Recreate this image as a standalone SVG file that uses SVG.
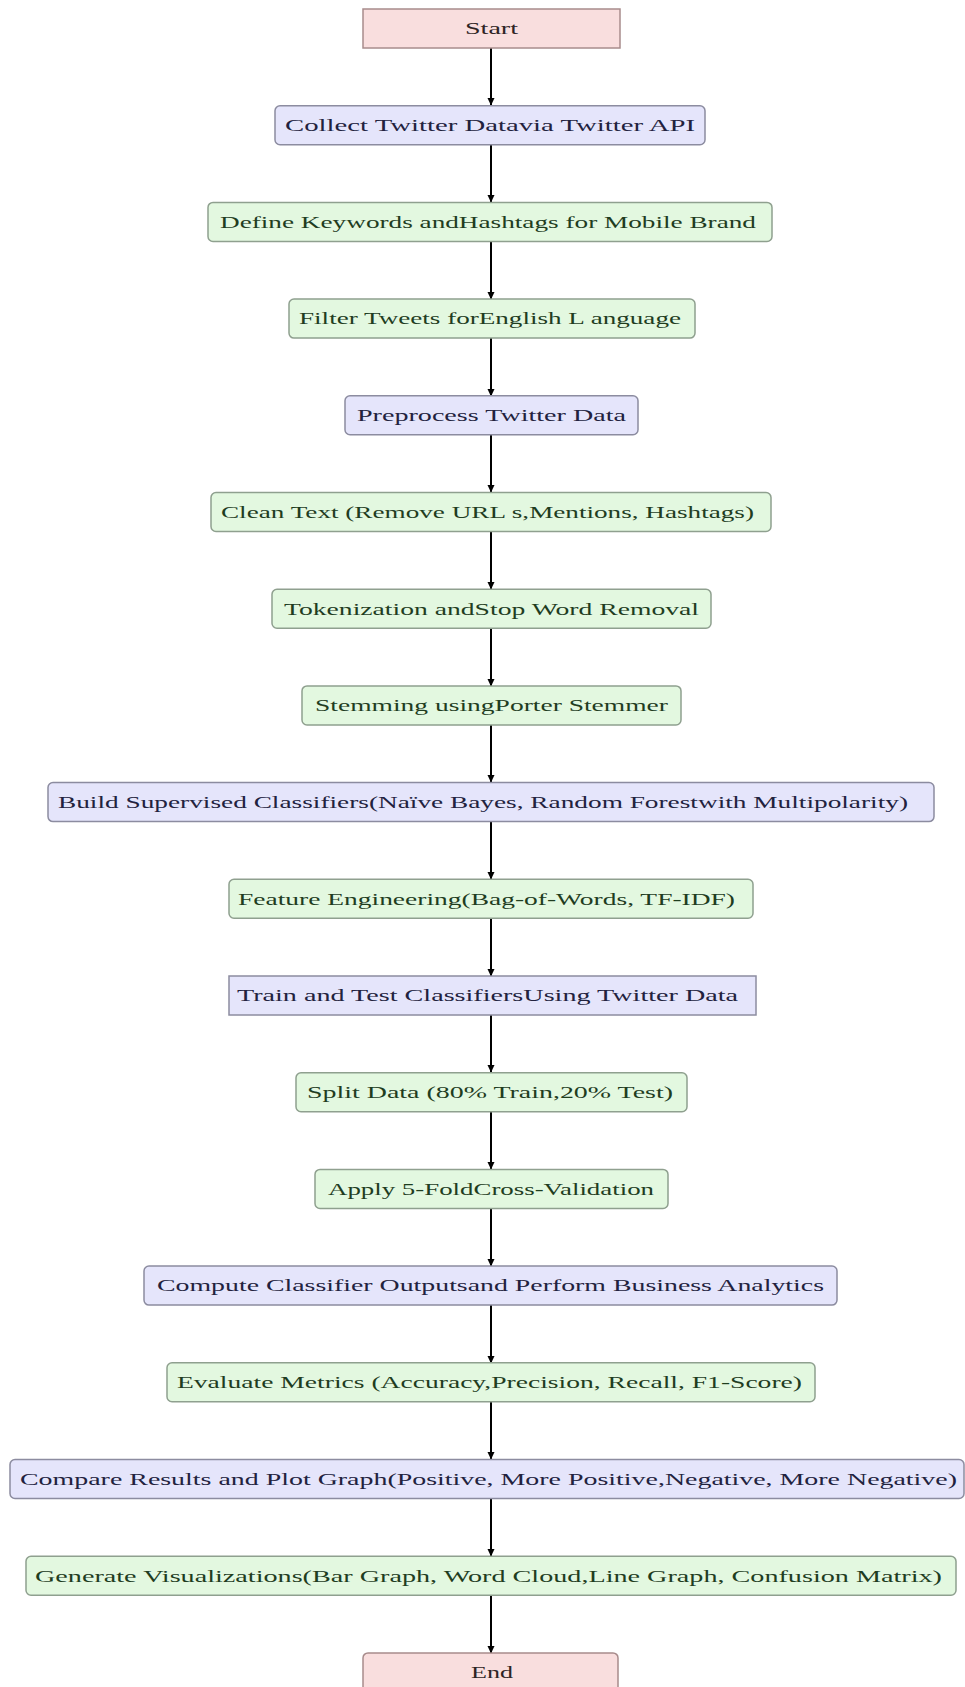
<svg xmlns="http://www.w3.org/2000/svg" width="965" height="1687" viewBox="0 0 965 1687">
<style>
.t{font-family:"Liberation Serif","Times New Roman",serif;font-size:17px;}
.pk rect{fill:#f9dede;stroke:#a88c8c;stroke-width:1.5;}
.pu rect{fill:#e5e5fb;stroke:#8c8ca0;stroke-width:1.5;}
.gr rect{fill:#e3f8e0;stroke:#8fa08f;stroke-width:1.5;}
.pk text{fill:#2e2424;}
.pu text{fill:#22223e;}
.gr text{fill:#1f3d1f;}
.c line{stroke:#000;stroke-width:2;marker-end:url(#ah);}
</style>
<defs>
<marker id="ah" markerWidth="8" markerHeight="8" refX="7" refY="4" orient="auto" markerUnits="userSpaceOnUse">
<path d="M0,0.5 L7.5,4 L0,7.5 z" fill="#000"/>
</marker>
</defs>
<rect width="965" height="1687" fill="#fff"/>
<g class="c">
<line x1="491" y1="48" x2="491" y2="105"/>
<line x1="491" y1="145" x2="491" y2="202"/>
<line x1="491" y1="241" x2="491" y2="299"/>
<line x1="491" y1="338" x2="491" y2="396"/>
<line x1="491" y1="435" x2="491" y2="492"/>
<line x1="491" y1="532" x2="491" y2="589"/>
<line x1="491" y1="628" x2="491" y2="686"/>
<line x1="491" y1="725" x2="491" y2="782"/>
<line x1="491" y1="822" x2="491" y2="879"/>
<line x1="491" y1="918" x2="491" y2="976"/>
<line x1="491" y1="1015" x2="491" y2="1072"/>
<line x1="491" y1="1112" x2="491" y2="1169"/>
<line x1="491" y1="1208" x2="491" y2="1266"/>
<line x1="491" y1="1305" x2="491" y2="1363"/>
<line x1="491" y1="1402" x2="491" y2="1459"/>
<line x1="491" y1="1498" x2="491" y2="1556"/>
<line x1="491" y1="1595" x2="491" y2="1653"/>
</g>
<g id="start" class="pk"><rect x="363" y="9" width="257" height="39"/><text class="t" x="465" y="34" textLength="53" lengthAdjust="spacingAndGlyphs">Start</text></g>
<g id="collect" class="pu"><rect x="275" y="105.7" width="430" height="39" rx="5"/><text class="t" x="285" y="131" textLength="410" lengthAdjust="spacingAndGlyphs">Collect Twitter Datavia Twitter API</text></g>
<g id="define" class="gr"><rect x="208" y="202.4" width="564" height="39" rx="5"/><text class="t" x="220" y="227.7" textLength="536" lengthAdjust="spacingAndGlyphs">Define Keywords andHashtags for Mobile Brand</text></g>
<g id="filter" class="gr"><rect x="289" y="299.1" width="406" height="39" rx="5"/><text class="t" x="299" y="324.4" textLength="382" lengthAdjust="spacingAndGlyphs">Filter Tweets forEnglish L anguage</text></g>
<g id="preprocess" class="pu"><rect x="345" y="395.8" width="293" height="39" rx="5"/><text class="t" x="357" y="421.1" textLength="269" lengthAdjust="spacingAndGlyphs">Preprocess Twitter Data</text></g>
<g id="clean" class="gr"><rect x="211" y="492.5" width="560" height="39" rx="5"/><text class="t" x="221" y="517.8" textLength="533" lengthAdjust="spacingAndGlyphs">Clean Text (Remove URL s,Mentions, Hashtags)</text></g>
<g id="token" class="gr"><rect x="272" y="589.2" width="439" height="39" rx="5"/><text class="t" x="284" y="614.5" textLength="415" lengthAdjust="spacingAndGlyphs">Tokenization andStop Word Removal</text></g>
<g id="stem" class="gr"><rect x="302" y="685.9" width="379" height="39" rx="5"/><text class="t" x="315" y="711.2" textLength="353" lengthAdjust="spacingAndGlyphs">Stemming usingPorter Stemmer</text></g>
<g id="build" class="pu"><rect x="48" y="782.6" width="886" height="39" rx="5"/><text class="t" x="58" y="807.9" textLength="850" lengthAdjust="spacingAndGlyphs">Build Supervised Classifiers(Naïve Bayes, Random Forestwith Multipolarity)</text></g>
<g id="feature" class="gr"><rect x="229" y="879.3" width="524" height="39" rx="5"/><text class="t" x="238" y="904.6" textLength="497" lengthAdjust="spacingAndGlyphs">Feature   Engineering(Bag-of-Words,   TF-IDF)</text></g>
<g id="train" class="pu"><rect x="229" y="976" width="527" height="39"/><text class="t" x="237" y="1001.3" textLength="501" lengthAdjust="spacingAndGlyphs">Train and Test ClassifiersUsing Twitter Data</text></g>
<g id="split" class="gr"><rect x="296" y="1072.7" width="391" height="39" rx="5"/><text class="t" x="307" y="1098" textLength="366" lengthAdjust="spacingAndGlyphs">Split Data (80% Train,20% Test)</text></g>
<g id="apply" class="gr"><rect x="315" y="1169.4" width="353" height="39" rx="5"/><text class="t" x="328" y="1194.7" textLength="326" lengthAdjust="spacingAndGlyphs">Apply 5-FoldCross-Validation</text></g>
<g id="compute" class="pu"><rect x="144" y="1266.1" width="693" height="39" rx="5"/><text class="t" x="157" y="1291.4" textLength="667" lengthAdjust="spacingAndGlyphs">Compute Classifier Outputsand Perform Business Analytics</text></g>
<g id="evaluate" class="gr"><rect x="167" y="1362.8" width="648" height="39" rx="5"/><text class="t" x="177" y="1388.1" textLength="625" lengthAdjust="spacingAndGlyphs">Evaluate Metrics (Accuracy,Precision, Recall, F1-Score)</text></g>
<g id="compare" class="pu"><rect x="10" y="1459.5" width="954" height="39" rx="5"/><text class="t" x="20" y="1484.8" textLength="937" lengthAdjust="spacingAndGlyphs">Compare Results and Plot Graph(Positive, More Positive,Negative, More Negative)</text></g>
<g id="generate" class="gr"><rect x="26" y="1556.2" width="930" height="39" rx="5"/><text class="t" x="35" y="1581.5" textLength="907" lengthAdjust="spacingAndGlyphs">Generate Visualizations(Bar Graph, Word Cloud,Line Graph, Confusion Matrix)</text></g>
<g id="end" class="pk"><rect x="363" y="1652.9" width="255" height="39" rx="5"/><text class="t" x="471" y="1678.2" textLength="42" lengthAdjust="spacingAndGlyphs">End</text></g>
</svg>
